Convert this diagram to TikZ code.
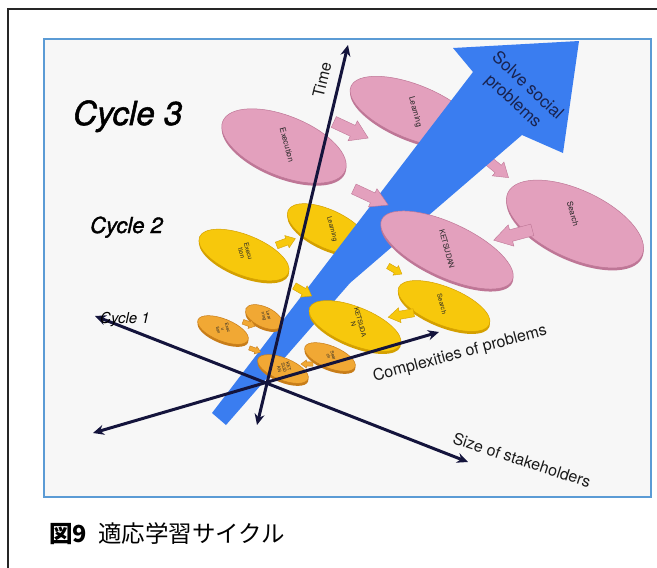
\documentclass[tikz,border=0pt]{standalone}
\usepackage{fontspec}
\setmainfont{TeX Gyre Heros}
\newfontfamily\cjkfont{Noto Sans CJK JP}
\newfontfamily\cycfont[FakeBold=1.6]{TeX Gyre Heros}
\usetikzlibrary{shapes.geometric,arrows.meta}
\definecolor{axisc}{RGB}{20,20,60}
\definecolor{framec}{RGB}{91,155,213}
\definecolor{bgc}{RGB}{247,247,247}
\definecolor{bluec}{RGB}{58,125,240}
\definecolor{pinkc}{RGB}{227,160,189}
\definecolor{pinkr}{RGB}{190,118,150}
\definecolor{yelc}{RGB}{247,200,12}
\definecolor{yelr}{RGB}{212,160,0}
\definecolor{orac}{RGB}{241,168,52}
\definecolor{orar}{RGB}{200,125,25}
\definecolor{navyt}{RGB}{25,35,80}
% block arrow: x, y, angle, length, width, fill, rim
\newcommand{\blockarr}[7]{%
  \filldraw[fill=#6, draw=#7, line width=0.4pt, shift={(#1,#2)}, rotate=#3]
  ({-#4/2},{-0.27*#5}) -- ({0.05*#4},{-0.27*#5}) -- ({0.05*#4},{-0.5*#5}) -- ({#4/2},0)
  -- ({0.05*#4},{0.5*#5}) -- ({0.05*#4},{0.27*#5}) -- ({-#4/2},{0.27*#5}) -- cycle;}
\begin{document}
\begin{tikzpicture}[x=1pt,y=-1pt,
  disc/.style 2 args={ellipse, inner sep=0pt, fill=#1, draw=#2, line width=0.5pt,
     preaction={fill=#2, transform canvas={yshift=-2.5pt}}},
  pinkdisc/.style={disc={pinkc}{pinkr}},
  yeldisc/.style={disc={yelc}{yelr}},
  oradisc/.style={disc={orac}{orar}},
  etext/.style={inner sep=0pt, align=center, text=black!85, rotate=-75},
  axis/.style={draw=axisc, line width=3pt, {Stealth[length=11pt,width=10pt]}-{Stealth[length=11pt,width=10pt]}},
  axlabel/.style={inner sep=0pt, text=black!90, font=\fontsize{16}{18}\selectfont},
  cyc/.style={inner sep=0pt, anchor=base west, text=black}
]
\useasboundingbox (0,0) rectangle (657,568);
\fill[white] (0,0) rectangle (657,568);
% outer frame (top and left edges)
\draw[line width=2pt, black!85] (8,568) -- (8,9) -- (657,9);
% inner blue frame
\draw[line width=2pt, draw=framec, fill=bgc] (44,39) rectangle (651,497);

% ---- elements behind the blue arrow ----
\blockarr{497}{168}{-40}{30}{18}{pinkc}{pinkr}
\node[pinkdisc, minimum width=136pt, minimum height=54pt, rotate=-22] (pL) at (414,112) {};
\node[etext, font=\fontsize{8}{9}\selectfont] (tpL) at (415,112) {Learning};
\node[pinkdisc, minimum width=132pt, minimum height=60pt, rotate=-22] (pE) at (284,146) {};
\node[etext, font=\fontsize{8}{9}\selectfont] (tpE) at (287,145) {Execution};
\node[pinkdisc, minimum width=148pt, minimum height=68pt, rotate=-25] (pS) at (575,224) {};
\node[etext, font=\fontsize{8}{9}\selectfont] (tpS) at (573,214) {Search};
\node[yeldisc, minimum width=88pt, minimum height=38pt, rotate=-25] (yL) at (328,229) {};
\node[etext, font=\fontsize{6.5}{7}\selectfont] (tyL) at (332,229) {Learning};
\blockarr{395}{270}{-30}{16}{11}{yelc}{yelr}

% ---- blue arrow ----
\fill[bluec] (212,413) -- (473,72) -- (453,48) -- (579,41) -- (563,153) -- (522,135) -- (350,283) -- (226,425) -- cycle;
\node[inner sep=0pt, rotate=-43, align=center, text=navyt, font=\fontsize{17}{21}\selectfont] (sol) at (520,94) {Solve social\\problems};

% ---- elements over the blue arrow ----
\node[pinkdisc, minimum width=144pt, minimum height=54pt, rotate=-25] (pK) at (447,250) {};
\node[etext, font=\fontsize{7.5}{8}\selectfont] (tpK) at (447,249) {KETSUDAN};
\blockarr{351}{130}{-25}{38}{22}{pinkc}{pinkr}
\blockarr{513}{235}{195}{40}{22}{pinkc}{pinkr}
\blockarr{371}{197}{-25}{38}{20}{pinkc}{pinkr}

\node[yeldisc, minimum width=96pt, minimum height=40pt, rotate=-22] (yE) at (244,255) {};
\node[etext, font=\fontsize{6.5}{7}\selectfont] (tyE) at (245,252) {Execu\\tion};
\node[yeldisc, minimum width=98pt, minimum height=38pt, rotate=-22] (yK) at (355,326) {};
\node[etext, font=\fontsize{6.5}{7}\selectfont] (tyK) at (357,323) {KETSUDA\\N};
\node[yeldisc, minimum width=98pt, minimum height=38pt, rotate=-22] (yS) at (444,306) {};
\node[etext, font=\fontsize{6.5}{7}\selectfont] (tyS) at (442,304) {Search};
\blockarr{286}{242}{20}{20}{13}{yelc}{yelr}
\blockarr{303}{291}{-30}{20}{13}{yelc}{yelr}
\blockarr{401}{315}{190}{26}{15}{yelc}{yelr}

\node[oradisc, minimum width=54pt, minimum height=22pt, rotate=-22] (oE) at (223,330) {};
\node[etext, font=\fontsize{4.5}{4.8}\selectfont] (toE) at (223,329) {Exec\\u\\tion};
\node[oradisc, minimum width=40pt, minimum height=20pt, rotate=-25] (oL) at (264,317) {};
\node[etext, font=\fontsize{4.5}{4.8}\selectfont] (toL) at (266,316) {Lear\\ning};
\node[oradisc, minimum width=54pt, minimum height=22pt, rotate=-22] (oS) at (330,357) {};
\node[etext, font=\fontsize{4.5}{4.8}\selectfont] (toS) at (331,356) {Sear\\ch};
\node[oradisc, minimum width=54pt, minimum height=22pt, rotate=-22] (oK) at (283,369) {};
\node[etext, font=\fontsize{4.5}{4.8}\selectfont] (toK) at (284,368) {KET\\SUD\\AN};
\blockarr{249}{324}{-20}{13}{9}{orac}{orar}
\blockarr{255}{350}{-20}{12}{8}{orac}{orar}
\blockarr{307}{364}{180}{12}{8}{orac}{orar}

% ---- axes ----
\coordinate (tB) at (257,425);
\coordinate (tT) at (348,45);
\coordinate (sL) at (95,316);
\coordinate (sR) at (468,462);
\coordinate (cL) at (93,433);
\coordinate (cR) at (439,332);
\draw[axis] (tB) -- (tT);
\draw[axis] (sL) -- (sR);
\draw[axis] (cL) -- (cR);

% ---- labels ----
\node[axlabel, rotate=76.5] (lt) at (322,80) {Time};
\node[axlabel, rotate=15] (lc) at (460,354) {Complexities of problems};
\node[axlabel, rotate=-18] (ls) at (522,460) {Size of stakeholders};
\node[cyc, font=\cycfont\itshape\fontsize{33}{36}\selectfont] (c3) at (73,125) {Cycle 3};
\node[cyc, font=\cycfont\itshape\fontsize{22}{24}\selectfont] (c2) at (90,233) {Cycle 2};
\node[cyc, font=\itshape\fontsize{15}{17}\selectfont] (c1) at (100,323) {Cycle 1};

% ---- caption ----
\node[inner sep=0pt, anchor=base west, font=\cjkfont\fontsize{23.5}{26}\selectfont] (cap) at (49,542) {\textbf{図9}\hspace{11pt}適応学習サイクル};
\end{tikzpicture}
\end{document}
